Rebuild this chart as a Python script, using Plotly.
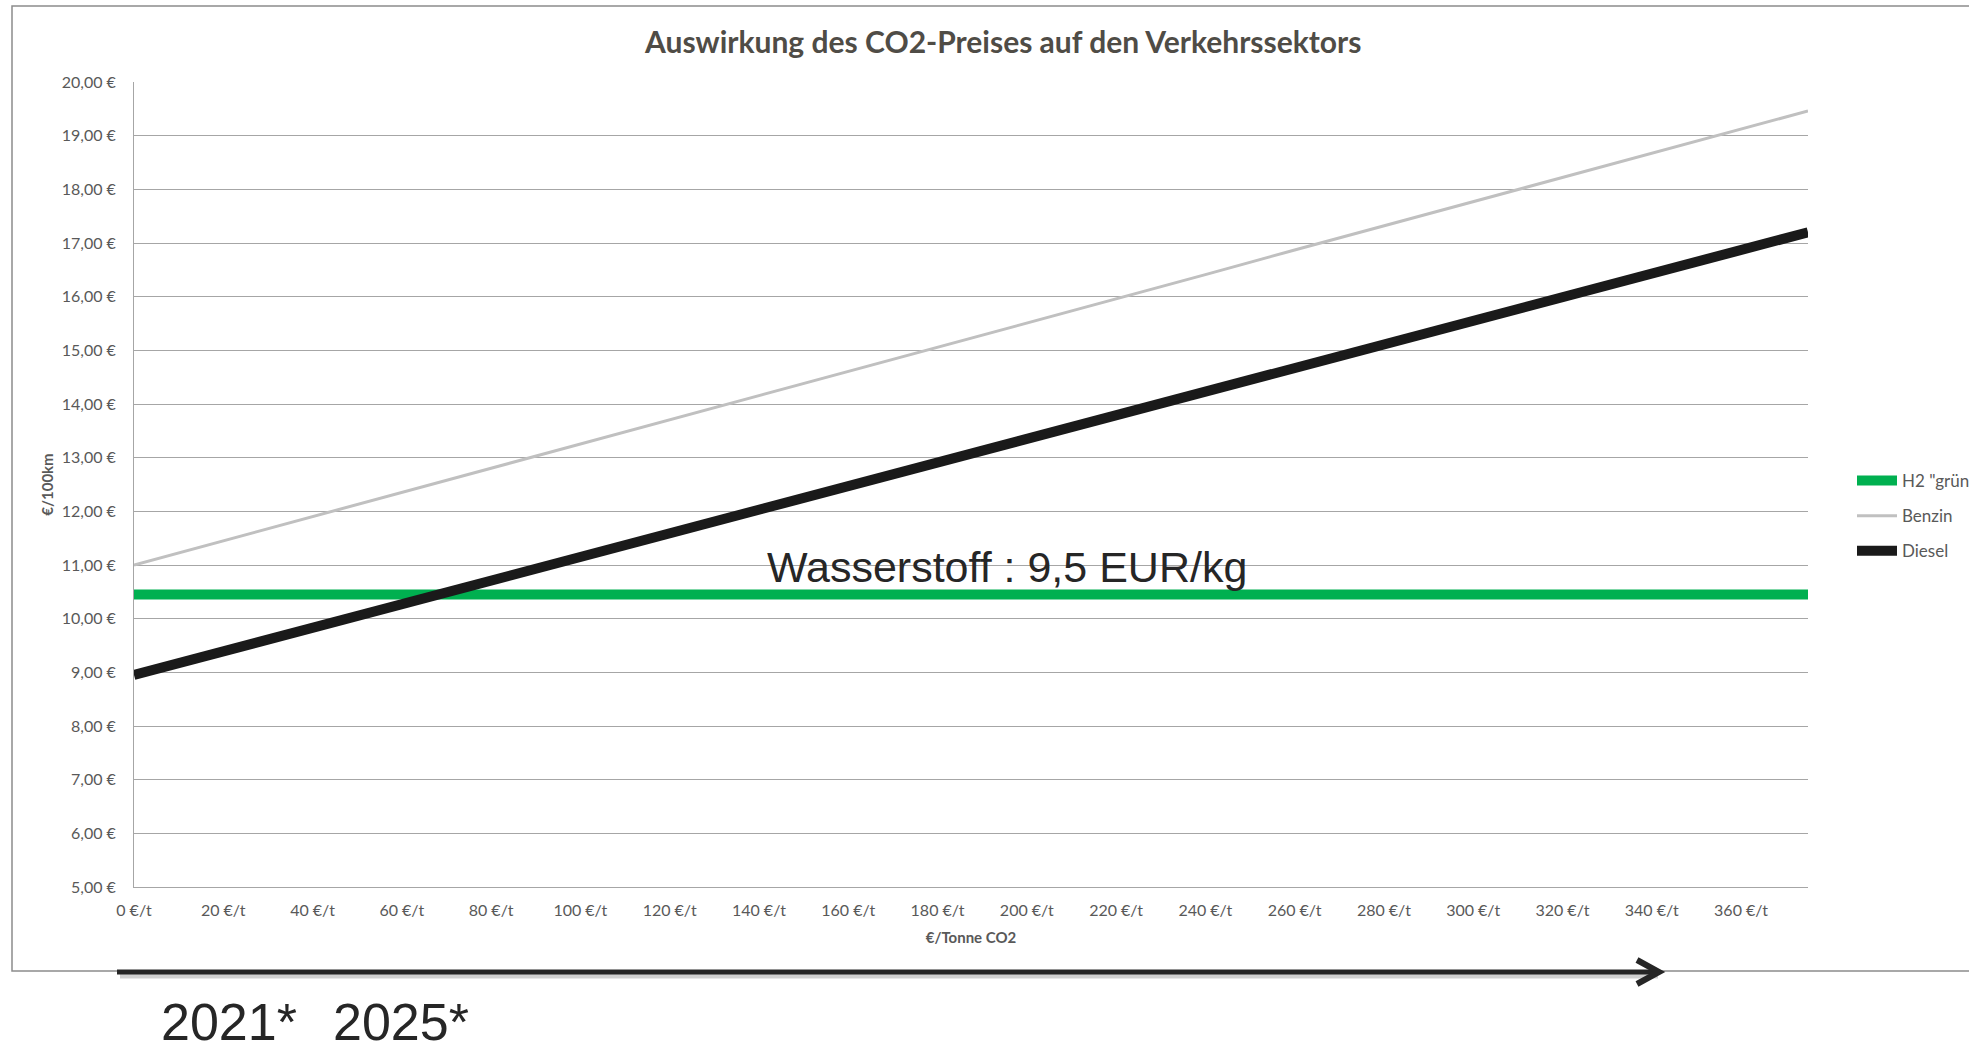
import plotly.graph_objects as go

# ---- data ----
co2_price = [0, 20, 40, 60, 80, 100, 120, 140, 160, 180, 200, 220, 240, 260, 280, 300, 320, 340, 360, 375]
h2_gruen = [10.45] * len(co2_price)
benzin = [11.00, 11.45, 11.90, 12.35, 12.80, 13.26, 13.71, 14.16, 14.61, 15.06,
          15.51, 15.96, 16.41, 16.87, 17.32, 17.77, 18.22, 18.67, 19.12, 19.46]
diesel = [8.95, 9.39, 9.83, 10.27, 10.71, 11.15, 11.59, 12.03, 12.47, 12.91,
          13.35, 13.79, 14.23, 14.67, 15.11, 15.55, 15.99, 16.43, 16.87, 17.20]

x_tick_vals = [0, 20, 40, 60, 80, 100, 120, 140, 160, 180, 200, 220, 240, 260, 280, 300, 320, 340, 360]
x_tick_text = [f"{v}\u202f€/t" for v in x_tick_vals]
y_tick_vals = list(range(5, 21))
y_tick_text = [f"{v},00\u202f€" for v in y_tick_vals]

title_text = "Auswirkung des CO2-Preises auf den Verkehrssektors"
x_title = "€/Tonne CO2"
y_title = "€/100km"
note_text = "Wasserstoff : 9,5 EUR/kg"
year_labels = ["2021*", "2025*"]

# ---- layout geometry (pixels) ----
W, H = 1969, 1045
L, R, T, B = 134, 1808, 82, 887


def px(x):
    return (x - L) / (R - L)


def py(y):
    return (B - y) / (B - T)


TICK_FONT = dict(family="Lato, Carlito, sans-serif", size=16, color="#595959")
TITLE_FONT = dict(family="Lato, Carlito, sans-serif", size=15, color="#595959")

fig = go.Figure()
fig.add_trace(go.Scatter(x=co2_price, y=h2_gruen, mode="lines", name='H2 "grün"',
                         line=dict(color="#00b050", width=10), legendgroup="a"))
fig.add_trace(go.Scatter(x=co2_price, y=benzin, mode="lines", name="Benzin",
                         line=dict(color="#c0c0c0", width=3), legendgroup="b"))
fig.add_trace(go.Scatter(x=co2_price, y=diesel, mode="lines", name="Diesel",
                         line=dict(color="#1a1a1a", width=10), legendgroup="c"))

shapes = []
# outer chart frame
shapes.append(dict(type="rect", xref="paper", yref="paper",
                   x0=px(12), x1=px(1990), y0=py(971), y1=py(6),
                   line=dict(color="#8c8c8c", width=1.5), layer="below"))
# arrow shadow
shapes.append(dict(type="line", xref="paper", yref="paper",
                   x0=px(120), x1=px(1658), y0=py(976), y1=py(976),
                   line=dict(color="rgba(0,0,0,0.18)", width=5)))
# arrow shaft
shapes.append(dict(type="line", xref="paper", yref="paper",
                   x0=px(117), x1=px(1656), y0=py(972), y1=py(972),
                   line=dict(color="#262626", width=5)))
# arrow head (open chevron)
shapes.append(dict(type="path", xref="paper", yref="paper",
                   path=f"M {px(1637)} {py(960)} L {px(1659)} {py(972)} L {px(1637)} {py(984)}",
                   line=dict(color="#262626", width=6)))

annotations = [
    dict(text=note_text, xref="paper", yref="paper", x=px(1007), y=py(567),
         xanchor="center", yanchor="middle", showarrow=False,
         font=dict(family="Liberation Sans, Arial, sans-serif", size=43, color="#262626")),
    dict(text=year_labels[0], xref="paper", yref="paper", x=px(159), y=py(1022),
         xanchor="left", yanchor="middle", showarrow=False,
         font=dict(family="Liberation Sans, Arial, sans-serif", size=52, color="#262626")),
    dict(text=year_labels[1], xref="paper", yref="paper", x=px(331), y=py(1022),
         xanchor="left", yanchor="middle", showarrow=False,
         font=dict(family="Liberation Sans, Arial, sans-serif", size=52, color="#262626")),
    dict(text=f"<b>{title_text}</b>", xref="paper", yref="paper", x=px(1002), y=py(41),
         xanchor="center", yanchor="middle", showarrow=False,
         font=dict(family="Lato, Carlito, sans-serif", size=30, color="#4f4c46")),
]

fig.update_layout(
    width=W, height=H,
    margin=dict(l=L, r=W - R, t=T, b=H - B, autoexpand=False),
    paper_bgcolor="white", plot_bgcolor="white",
    shapes=shapes, annotations=annotations,
    showlegend=True,
    legend=dict(x=px(1852), y=py(516), xanchor="left", yanchor="middle",
                font=dict(family="Lato, Carlito, sans-serif", size=17, color="#595959"),
                traceorder="grouped", tracegroupgap=10, bgcolor="rgba(0,0,0,0)",
                itemwidth=40),
    xaxis=dict(range=[0, 375], tickvals=x_tick_vals, ticktext=x_tick_text,
               showgrid=False, zeroline=False, showline=True, linecolor="#a6a6a6",
               linewidth=1, ticks="", tickfont=TICK_FONT, ticklabelstandoff=9,
               title=dict(text=f"<b>{x_title}</b>", standoff=14, font=TITLE_FONT)),
    yaxis=dict(range=[5, 20], tickvals=y_tick_vals, ticktext=y_tick_text,
               showgrid=True, gridcolor="#a6a6a6", gridwidth=1, zeroline=False,
               showline=True, linecolor="#a6a6a6", linewidth=1, ticks="",
               tickfont=TICK_FONT, ticklabelstandoff=14,
               title=dict(text=f"<b>{y_title}</b>", standoff=4, font=TITLE_FONT)),
)

fig.write_html("out.html", config={"displayModeBar": False},
               post_script="document.body.style.margin='0';document.body.style.padding='0';")
